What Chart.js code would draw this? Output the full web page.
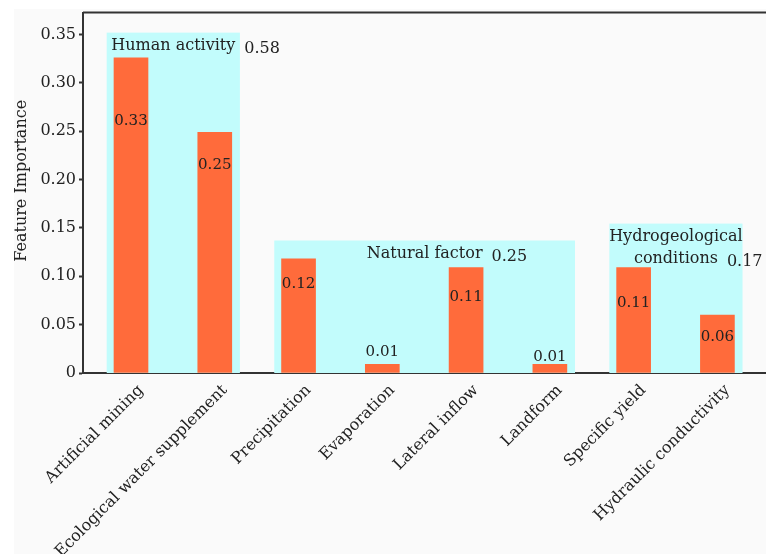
<!DOCTYPE html>
<html>
<head>
<meta charset="utf-8">
<script src="https://cdn.jsdelivr.net/npm/chart.js@4"></script>
<style>
  body { margin: 0; background: #ffffff; }
  #wrap { width: 766px; height: 554px; }
</style>
</head>
<body>
<div id="wrap"><canvas id="chart" width="766" height="554"></canvas></div>
<script>
// chart data
const categories = [
  "Artificial mining", "Ecological water supplement", "Precipitation", "Evaporation",
  "Lateral inflow", "Landform", "Specific yield", "Hydraulic conductivity"
];
const importance = [0.326, 0.249, 0.118, 0.009, 0.109, 0.009, 0.109, 0.06];
const yTicks = [0, 0.05, 0.10, 0.15, 0.20, 0.25, 0.30, 0.35];
const yTitle = "Feature Importance";

// groups of factors (shaded boxes)
const groupNames = [["Human activity"], ["Natural factor"], ["Hydrogeological", "conditions"]];
const groupFirst = [0, 2, 6];
const groupLast = [1, 5, 7];
const groupTop = [0.352, 0.137, 0.1545];
const groupTotals = ["0.58", "0.25", "0.17"];

// where the value text sits relative to the top of each bar (px, + is down)
const labelShift = [63, 33, 25, -12, 30, -7, 36, 22];

const serif = "'DejaVu Serif', 'Liberation Serif', serif";
const textColor = "#222";

// Shaded group boxes behind the bars, plus the annotations
const groupBoxes = {
  id: "groupBoxes",
  beforeDatasetsDraw(chart) {
    const ctx = chart.ctx;
    const x = chart.scales.x, y = chart.scales.y;
    ctx.save();
    ctx.fillStyle = "#c2fcfc";
    groupNames.forEach((g, i) => {
      const left = x.getPixelForValue(groupFirst[i] - 0.29);
      const right = x.getPixelForValue(groupLast[i] + 0.3);
      const top = y.getPixelForValue(groupTop[i]);
      ctx.fillRect(left, top, right - left, y.getPixelForValue(0) - top);
    });
    ctx.restore();
  },
  afterDatasetsDraw(chart) {
    const ctx = chart.ctx;
    const x = chart.scales.x, y = chart.scales.y;
    const area = chart.chartArea;
    ctx.save();
    ctx.fillStyle = textColor;
    ctx.font = "16px " + serif;
    ctx.textBaseline = "middle";
    groupNames.forEach((lines, i) => {
      const left = x.getPixelForValue(groupFirst[i] - 0.29);
      const right = x.getPixelForValue(groupLast[i] + 0.3);
      const top = y.getPixelForValue(groupTop[i]);
      const cx = (left + right) / 2;
      let endX = 0, lineY = 0;
      lines.forEach((line, k) => {
        lineY = top + 13 + k * 22;
        ctx.textAlign = "center";
        ctx.fillText(line, cx, lineY);
        endX = cx + ctx.measureText(line).width / 2;
      });
      ctx.textAlign = "left";
      ctx.fillText(groupTotals[i], endX + 9, lineY + 3);
    });

    // value labels on bars
    ctx.font = "15px " + serif;
    ctx.textAlign = "center";
    chart.getDatasetMeta(0).data.forEach((bar, i) => {
      ctx.fillText(importance[i].toFixed(2), bar.x, bar.y + labelShift[i]);
    });

    // y axis title (sits a little above the middle in the original)
    ctx.save();
    ctx.translate(22, (area.top + area.bottom) / 2 - 12);
    ctx.rotate(-Math.PI / 2);
    ctx.font = "16px " + serif;
    ctx.fillText(yTitle, 0, 0);
    ctx.restore();

    // top frame line
    ctx.strokeStyle = "#333";
    ctx.lineWidth = 2;
    ctx.beginPath();
    ctx.moveTo(area.left, area.top);
    ctx.lineTo(area.right, area.top);
    ctx.stroke();
    ctx.restore();
  }
};

const bgPlugin = {
  id: "bg",
  beforeDraw(chart) {
    const ctx = chart.ctx;
    ctx.save();
    ctx.fillStyle = "#fafafa";
    ctx.fillRect(14, 9, chart.width - 14, chart.height - 9);
    ctx.restore();
  }
};

new Chart(document.getElementById("chart"), {
  type: "bar",
  data: {
    datasets: [{
      data: importance.map((v, i) => ({ x: i, y: v })),
      backgroundColor: "#ff6b3b",
      borderWidth: 0,
      barThickness: 34
    }]
  },
  options: {
    responsive: false,
    animation: false,
    layout: { padding: { left: 12, top: 11, right: 0, bottom: 0 } },
    plugins: {
      legend: { display: false },
      tooltip: { enabled: false }
    },
    scales: {
      x: {
        type: "linear",
        offset: false,
        min: -0.573,
        max: 7.58,
        grid: { display: false },
        border: { color: "#333", width: 2 },
        afterBuildTicks: (axis) => { axis.ticks = categories.map((c, i) => ({ value: i })); },
        afterFit: (axis) => { axis.height = 181; },
        ticks: {
          autoSkip: false,
          minRotation: 45,
          maxRotation: 45,
          padding: 0,
          labelOffset: 10,
          color: textColor,
          font: { family: serif, size: 16 },
          callback: (v) => categories[v]
        }
      },
      y: {
        min: 0,
        max: 0.3727,
        grid: { drawOnChartArea: false, tickLength: 4, color: "#333", tickWidth: 2 },
        border: { color: "#333", width: 2 },
        afterBuildTicks: (axis) => { axis.ticks = yTicks.map(v => ({ value: v })); },
        afterFit: (axis) => { axis.width = 71; },
        ticks: {
          padding: 3,
          color: textColor,
          font: { family: serif, size: 16 },
          callback: (v) => v === 0 ? "0" : v.toFixed(2)
        }
      }
    }
  },
  plugins: [bgPlugin, groupBoxes]
});
</script>
</body>
</html>
